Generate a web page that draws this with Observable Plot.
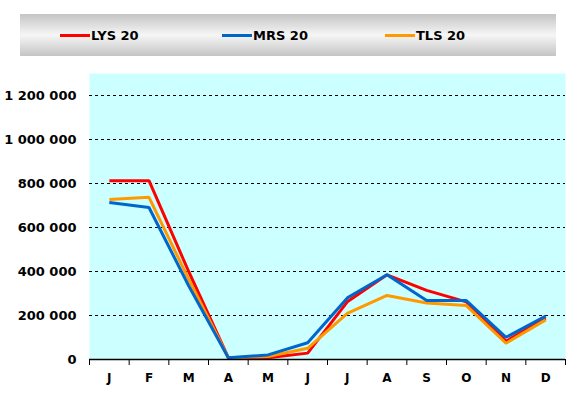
<!DOCTYPE html>
<html>
<head>
<meta charset="utf-8">
<script src="https://cdn.jsdelivr.net/npm/d3@7"></script>
<script src="https://cdn.jsdelivr.net/npm/@observablehq/plot@0.6"></script>
<style>
  html, body { margin: 0; padding: 0; background: #fff; }
  #wrap { position: relative; width: 581px; height: 396px; font-family: Verdana, "DejaVu Sans", sans-serif; }
  #legend { position: absolute; left: 20px; top: 14px; width: 536px; height: 42px;
    background: linear-gradient(to bottom, #c4c4c4 0%, #f6f6f6 50%, #c4c4c4 100%); }
  .item { position: absolute; top: 14px; height: 14px; display: flex; align-items: center;
    font-weight: bold; font-size: 13px; color: #000; white-space: nowrap; }
  .swatch { display: inline-block; width: 30px; height: 3px; margin-right: 1px; }
  #chart { position: absolute; left: 0; top: 0; }
</style>
</head>
<body>
<div id="wrap">
  <div id="chart"></div>
  <div id="legend"></div>
</div>
<script>
const months = ["J","F","M","A","M","J","J","A","S","O","N","D"];
const seriesNames = ["LYS 20","MRS 20","TLS 20"];
const seriesColors = ["#FF0000","#0066CC","#FF9900"];
const lys = [813000, 813000, 400000, 8000, 8000, 29000, 262000, 385000, 314000, 262000, 83000, 188000];
const mrs = [714000, 691000, 335000, 8000, 21000, 76000, 280000, 385000, 268000, 268000, 101000, 197000];
const tls = [727000, 737000, 365000, 8000, 14000, 51000, 210000, 291000, 257000, 245000, 74000, 180000];
const yTicks = [0, 200000, 400000, 600000, 800000, 1000000, 1200000];

const seriesValues = [lys, mrs, tls];
const data = [];
seriesNames.forEach((name, s) => {
  seriesValues[s].forEach((v, i) => data.push({series: name, i, v}));
});
// draw order: red, orange, blue
const order = ["LYS 20", "TLS 20", "MRS 20"];

const fmt = d => d3.format(",")(d).replace(/,/g, " ");
const boundaries = d3.range(13).map(k => k - 0.5);

const chart = Plot.plot({
  width: 581,
  height: 396,
  marginLeft: 89,
  marginRight: 16,
  marginTop: 73,
  marginBottom: 37,
  style: {fontFamily: 'Verdana, "DejaVu Sans", sans-serif', background: "transparent"},
  x: {type: "linear", domain: [-0.5, 11.5], label: null},
  y: {type: "linear", domain: [0, 1300000], label: null},
  color: {domain: seriesNames, range: seriesColors},
  marks: [
    Plot.frame({fill: "#CCFFFF", stroke: null}),
    Plot.ruleY(yTicks.filter(d => d > 0), {stroke: "#000", strokeWidth: 1, strokeDasharray: "3,3"}),
    ...order.map(name => Plot.line(data.filter(d => d.series === name), {
      x: "i", y: "v", stroke: seriesColors[seriesNames.indexOf(name)], strokeWidth: 3,
      strokeLinejoin: "miter", strokeLinecap: "butt"
    })),
    Plot.ruleY([0], {stroke: "#000", strokeWidth: 1.5}),
    Plot.axisX({ticks: boundaries, tickSize: 6, tickFormat: () => "", stroke: "#000", label: null}),
    Plot.axisX({ticks: d3.range(12), tickSize: 0, tickPadding: 14, tickFormat: i => months[i],
      fontWeight: "bold", fontSize: 12, fill: "#000", label: null}),
    Plot.axisY({ticks: yTicks, tickSize: 0, tickPadding: 13, tickFormat: fmt,
      fontWeight: "bold", fontSize: 13, fill: "#000", label: null})
  ]
});
document.getElementById("chart").appendChild(chart);

// legend
const legend = document.getElementById("legend");
const lefts = [40, 202, 365];
seriesNames.forEach((name, s) => {
  const it = document.createElement("div");
  it.className = "item";
  it.style.left = lefts[s] + "px";
  const sw = document.createElement("span");
  sw.className = "swatch";
  sw.style.background = seriesColors[s];
  const tx = document.createElement("span");
  tx.textContent = name;
  it.appendChild(sw);
  it.appendChild(tx);
  legend.appendChild(it);
});
</script>
</body>
</html>
